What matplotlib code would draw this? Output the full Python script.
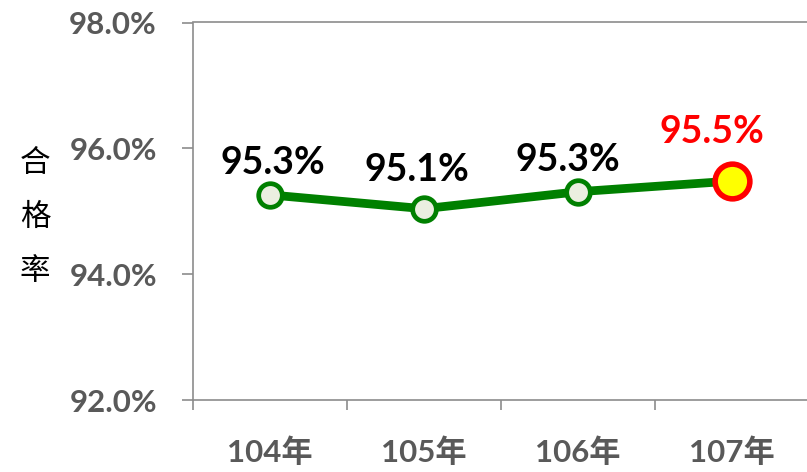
import matplotlib
matplotlib.use("Agg")
import matplotlib.pyplot as plt

# data
years = ["104年", "105年", "106年", "107年"]
rates = [95.26, 95.04, 95.31, 95.48]
rate_labels = ["95.3%", "95.1%", "95.3%", "95.5%"]
y_ticks = [92.0, 94.0, 96.0, 98.0]

fam = ["Lato", "Noto Sans CJK TC", "DejaVu Sans"]
plt.rcParams["font.family"] = fam

fig = plt.figure(figsize=(8.07, 4.72), dpi=100)
ax = fig.add_axes([193 / 807, 72 / 472, 616 / 807, 377.5 / 472])

x = list(range(len(years)))
green = "#008000"
ax.plot(x, rates, color=green, lw=6.3, zorder=2, solid_capstyle="round")
ax.plot(x[:-1], rates[:-1], "o", ms=17, mfc="#EBEFE0", mec=green, mew=3.4,
        zorder=3, ls="none")
ax.plot(x[-1:], rates[-1:], "o", ms=25, mfc="#FFFF00", mec="#FF0000", mew=4,
        zorder=3, ls="none")

# label offsets (pixels) relative to each point
offs = [(3, 35), (-7, 42), (-10, 35), (-20, 52)]
for i, (v, t) in enumerate(zip(rates, rate_labels)):
    col = "#FF0000" if i == len(rates) - 1 else "black"
    ax.annotate(t, (i, v), xytext=offs[i], textcoords="offset pixels",
                ha="center", va="center_baseline", fontsize=27,
                fontweight="bold", color=col, family=fam)

ax.set_xlim(-0.5, len(years) - 0.5)
ax.set_ylim(92, 98)

gray = "#8C8C8C"
for s in ["left", "bottom", "top"]:
    ax.spines[s].set_color(gray)
    ax.spines[s].set_linewidth(1.2)
ax.spines["right"].set_visible(False)

ax.set_yticks(y_ticks)
ax.set_yticklabels([f"{t:.1f}%" for t in y_ticks])
ax.tick_params(axis="y", direction="out", length=8, width=1.2, color=gray,
               pad=18, labelsize=22.5, labelcolor="#595959")

ax.set_xticks([i - 0.5 for i in range(len(years) + 1)])
ax.set_xticklabels([])
ax.tick_params(axis="x", which="major", direction="out", length=7.5,
               width=1.2, color=gray)
ax.set_xticks(x, minor=True)
ax.set_xticklabels(years, minor=True)
ax.tick_params(axis="x", which="minor", length=0, pad=27, labelsize=22.5,
               labelcolor="#595959")
for lab in ax.get_yticklabels() + ax.get_xticklabels(minor=True):
    lab.set_fontweight("bold")

for k, ch in enumerate("合格率"):
    fig.text(35 / 807, 1 - (163 + 54 * k) / 472, ch, ha="center",
             va="center", fontsize=22, family=["Noto Sans CJK TC"])

fig.savefig("out.png", dpi=100)
